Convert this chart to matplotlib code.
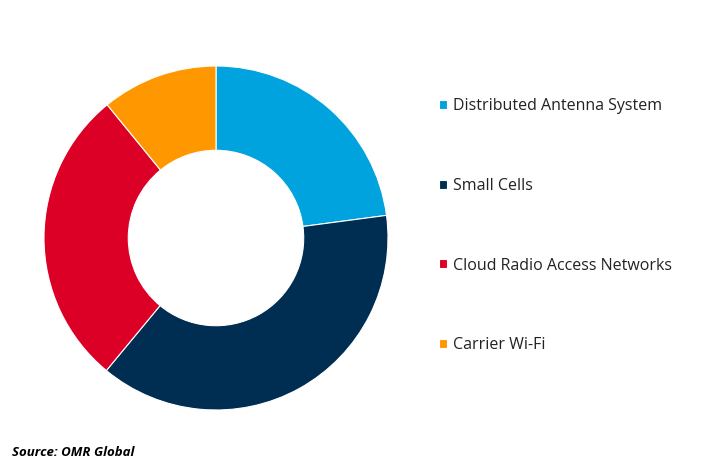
import matplotlib.pyplot as plt

# 数据
labels = ['Distributed Antenna System', 'Small Cells',
          'Cloud Radio Access Networks', 'Carrier Wi-Fi']
shares = [22.9, 38.1, 28.1, 10.9]
colors = ['#00A3DD', '#002E52', '#DC0026', '#FF9800']

plt.rcParams['font.family'] = ['Open Sans', 'DejaVu Sans']

fig = plt.figure(figsize=(7.2, 4.76), dpi=100)
ax = fig.add_axes([44 / 720, 66 / 476, 344 / 720, 344 / 476])

wedges, _ = ax.pie(shares, colors=colors, startangle=90, counterclock=False,
                   radius=1.0, wedgeprops=dict(width=0.49, edgecolor='white', linewidth=0.8))
ax.set_xlim(-1, 1)
ax.set_ylim(-1, 1)
ax.set_aspect('equal')
ax.axis('off')

leg = fig.legend(wedges, labels, loc='upper left', bbox_to_anchor=(433 / 720, 1 - 92 / 476),
                 frameon=False, fontsize=11.5, handlelength=0.5, handleheight=0.5,
                 handletextpad=0.35, labelspacing=3.98, borderaxespad=0)
for t in leg.get_texts():
    t.set_color('#222222')

fig.text(12 / 720, 1 - 452 / 476, 'Source: OMR Global', fontsize=9.5,
         fontweight='bold', fontstyle='italic', va='center', ha='left')

plt.savefig('out.png', dpi=100)
